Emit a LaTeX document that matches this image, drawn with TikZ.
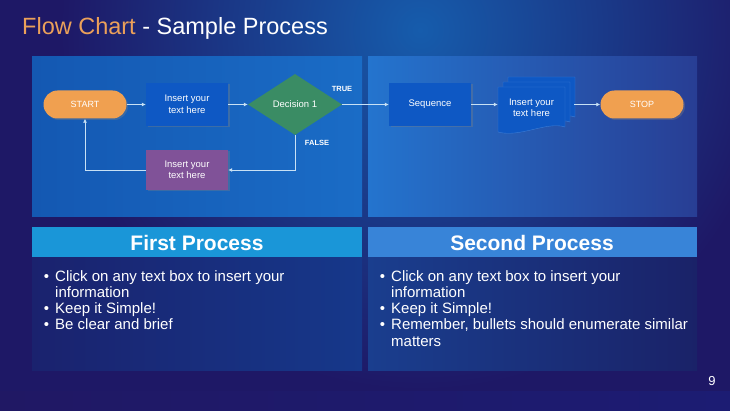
\documentclass[tikz,border=0pt]{standalone}
\usepackage{fontspec}
\setmainfont{Liberation Sans}
\usetikzlibrary{arrows.meta, positioning, shapes.geometric, shadows}

\definecolor{bgbase}{RGB}{30,24,102}
\definecolor{bgglow}{RGB}{22,92,172}
\definecolor{boxblue}{RGB}{14,88,196}
\definecolor{sheetline}{RGB}{60,125,215}
\definecolor{termorange}{RGB}{240,160,80}
\definecolor{decgreen}{RGB}{58,140,100}
\definecolor{procpurple}{RGB}{128,82,152}
\definecolor{flowline}{RGB}{200,225,245}
\definecolor{titleorange}{RGB}{235,160,90}

\newcommand{\bitem}{\llap{\textbullet\hspace{6pt}}}

\tikzset{
  box/.style={rectangle, fill=boxblue, minimum width=82pt, minimum height=43pt, inner sep=0pt,
    align=center, text=white, font=\fontsize{9.5}{11.5}\selectfont,
    drop shadow={opacity=0.35, shadow xshift=1.5pt, shadow yshift=-1.5pt}},
  term/.style={rectangle, rounded corners=14pt, fill=termorange, minimum width=83pt, minimum height=28pt,
    text=white, font=\fontsize{9}{11}\selectfont,
    drop shadow={opacity=0.35, shadow xshift=1.5pt, shadow yshift=-1.5pt}},
  decision/.style={diamond, fill=decgreen, minimum width=94pt, minimum height=61pt, inner sep=0pt,
    text=white, font=\fontsize{9.5}{11.5}\selectfont},
  sheet/.style={fill=boxblue, draw=sheetline, line width=0.4pt},
  doctext/.style={minimum width=67pt, minimum height=45pt, inner sep=0pt, align=center,
    text=white, font=\fontsize{9.5}{11.5}\selectfont},
  branch/.style={text=white, font=\bfseries\fontsize{7.5}{9}\selectfont},
  flow/.style={color=flowline, line width=0.8pt, -{Latex[length=4pt,width=4pt]}},
  head/.style={text=white, font=\bfseries\fontsize{21}{25}\selectfont},
  bullets/.style={anchor=north west, inner sep=0pt, align=left, text=white,
    font=\fontsize{15}{16.3}\selectfont}
}

\begin{document}
\begin{tikzpicture}[x=1pt, y=-1pt]

\useasboundingbox (0,0) rectangle (730,411);

%background
\fill [bgbase] (0,0) rectangle (730,411);
\begin{scope}
\clip (0,0) rectangle (730,411);
\shade [inner color=bgglow, outer color=bgbase] (420,30) circle [radius=360pt];
\end{scope}
\shade [left color={rgb,255:red,32;green,24;blue,100}, middle color={rgb,255:red,18;green,75;blue,155},
  right color={rgb,255:red,28;green,28;blue,115}] (0,391) rectangle (730,411);

%panels
\shade [left color={rgb,255:red,20;green,88;blue,178}, right color={rgb,255:red,26;green,108;blue,198}]
  (32,57) rectangle (362,217);
\shade [left color={rgb,255:red,36;green,116;blue,206}, right color={rgb,255:red,40;green,62;blue,148}]
  (368,57) rectangle (697,217);
\fill [fill={rgb,255:red,26;green,150;blue,216}] (32,227) rectangle (362,258);
\fill [fill={rgb,255:red,56;green,132;blue,216}] (368,227) rectangle (697,258);
\shade [left color={rgb,255:red,26;green,34;blue,110}, right color={rgb,255:red,22;green,56;blue,138}]
  (32,258) rectangle (362,370);
\shade [left color={rgb,255:red,26;green,62;blue,142}, right color={rgb,255:red,26;green,34;blue,104}]
  (368,258) rectangle (697,370);

\node (T) [anchor=base west, inner sep=0pt, text=white, font=\fontsize{23.5}{28}\selectfont]
  at (22,35) {\textcolor{titleorange}{Flow Chart} - Sample Process};

%flow chart
\node (ST) [term] at (85,104.5) {START};
\node (IA) [box] at (187,104.5) {Insert your\\text here};
\node (D1) [decision] at (295,104.5) {Decision 1};
\node (IB) [box, fill=procpurple, minimum height=40pt] at (187,170) {Insert your\\text here};
\node (SQ) [box] at (430,104.5) {Sequence};
\foreach \o in {10,5,0}
  \filldraw [sheet] ({498+\o},{87-\o}) -- ++(67,0) -- ++(0,40)
    .. controls +(-18,-6) and +(22,6) .. ({498+\o},{132-\o}) -- cycle;
\node (DOC) [doctext] at (531.5,108) {Insert your\\text here};
\node (SP) [term] at (642,104.5) {STOP};
\node (TR) [branch] at (342,89) {TRUE};
\node (FA) [branch] at (317,143) {FALSE};

\path [flow]
(ST) edge (IA)
(IA) edge (D1)
(D1) edge (SQ)
(SQ) edge (SQ -| DOC.west)
([xshift=9pt]DOC.east |- SP) edge (SP)
(D1.south) edge [to path={|- (\tikztotarget)}] (IB.east)
(IB.west) edge [to path={-| (\tikztotarget)}] (ST.south)
;

%text panels
\node (H1) [head] at (197,243) {First Process};
\node (H2) [head] at (532,243) {Second Process};
\node (L1) [bullets] at (55,270) {\bitem Click on any text box to insert your\\information\\
  \bitem Keep it Simple!\\\bitem Be clear and brief};
\node (L2) [bullets] at (391,270) {\bitem Click on any text box to insert your\\information\\
  \bitem Keep it Simple!\\\bitem Remember, bullets should enumerate similar\\matters};

\node (PG) [text=white, font=\fontsize{13}{15}\selectfont] at (712,381) {9};

\end{tikzpicture}
\end{document}
